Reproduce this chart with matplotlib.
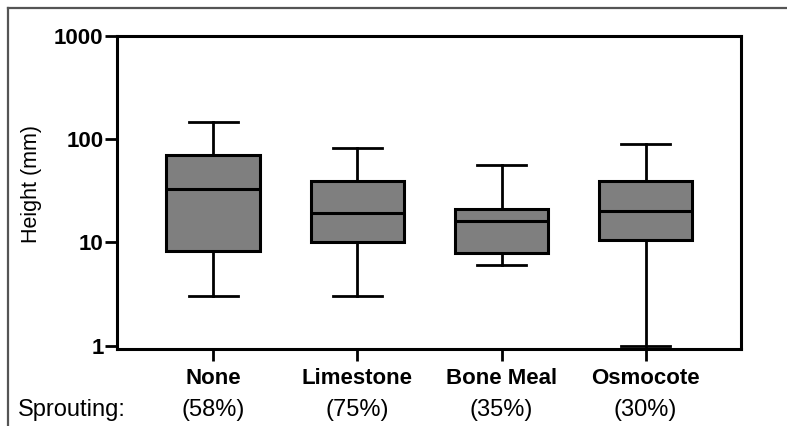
import matplotlib
matplotlib.use("Agg")
import matplotlib.pyplot as plt
from matplotlib.lines import Line2D
from matplotlib.transforms import blended_transform_factory
from matplotlib.ticker import FixedLocator, FixedFormatter, NullLocator

# Treatments and the share of seeds that sprouted
categories = ["None", "Limestone", "Bone Meal", "Osmocote"]
sprouting = ["(58%)", "(75%)", "(35%)", "(30%)"]

# Box-and-whisker summary of plant height (mm)
whisker_low = [3.0, 3.0, 6.0, 1.0]
q1 = [8.2, 10.1, 7.9, 10.5]
median = [32.8, 19.1, 16.2, 20.1]
q3 = [71.0, 39.5, 20.9, 39.5]
whisker_high = [147.0, 83.0, 56.0, 89.6]

y_ticks = [1, 10, 100, 1000]
y_tick_labels = ["1", "10", "100", "1000"]

plt.rcParams["font.family"] = ["Liberation Sans", "DejaVu Sans"]

fig = plt.figure(figsize=(7.87, 4.26), dpi=100)
ax = fig.add_axes([0.1493, 0.180, 0.9412 - 0.1493, 0.9155 - 0.180])

stats = []
for i, name in enumerate(categories):
    stats.append({
        "label": name,
        "whislo": whisker_low[i],
        "q1": q1[i],
        "med": median[i],
        "q3": q3[i],
        "whishi": whisker_high[i],
        "fliers": [],
    })

lw = 2.2
positions = list(range(1, len(categories) + 1))
ax.bxp(
    stats,
    positions=positions,
    widths=0.65,
    patch_artist=True,
    showfliers=False,
    boxprops=dict(facecolor="#7f7f7f", edgecolor="black", linewidth=lw),
    medianprops=dict(color="black", linewidth=lw),
    whiskerprops=dict(color="black", linewidth=2.0),
    capprops=dict(color="black", linewidth=2.0),
    capwidths=0.34,
)

ax.set_yscale("log")
ax.set_ylim(0.923, 1000)
ax.set_xlim(0.335, 4.66)

ax.yaxis.set_major_locator(FixedLocator(y_ticks))
ax.yaxis.set_major_formatter(FixedFormatter(y_tick_labels))
ax.yaxis.set_minor_locator(NullLocator())

ax.set_xticks(positions)
ax.set_xticklabels(categories)

for spine in ax.spines.values():
    spine.set_linewidth(2.2)
    spine.set_color("black")

ax.tick_params(axis="both", which="major", direction="out", length=8.5,
               width=2.0, color="black", labelsize=16)
ax.tick_params(axis="y", pad=1.5)
ax.tick_params(axis="x", pad=5)
for lab in ax.get_yticklabels() + ax.get_xticklabels():
    lab.set_fontweight("bold")

fig.text(32 / 787, 1 - 184 / 426, "Height (mm)", rotation=90, fontsize=15.5,
         ha="center", va="center")

# Sprouting percentages beneath each treatment
row = blended_transform_factory(ax.transData, fig.transFigure)
for x, pct in zip(positions, sprouting):
    ax.text(x, 1 - 410 / 426, pct, transform=row,
            ha="center", va="center", fontsize=17)
fig.text(18 / 787, 1 - 410 / 426, "Sprouting:", ha="left", va="center", fontsize=17)

# Outer frame lines along the top and left edges
fig.add_artist(Line2D([8 / 787, 1.0], [1 - 8 / 426, 1 - 8 / 426],
                      transform=fig.transFigure, color="#555555", linewidth=1.6))
fig.add_artist(Line2D([8 / 787, 8 / 787], [0.0, 1 - 8 / 426],
                      transform=fig.transFigure, color="#555555", linewidth=1.6))

fig.savefig("out.png", dpi=100)
